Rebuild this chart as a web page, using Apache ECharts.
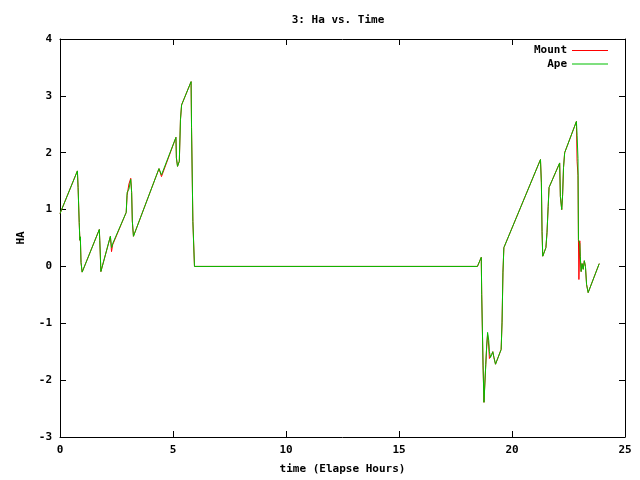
<!DOCTYPE html>
<html>
<head>
<meta charset="utf-8">
<script src="https://cdn.jsdelivr.net/npm/echarts@6/dist/echarts.min.js"></script>
<style>
  html, body { margin: 0; padding: 0; background: #fff; }
  #main { width: 640px; height: 480px; }
</style>
</head>
<body>
<div id="main"></div>
<script>
// elapsed hours, shared by both traces
var timeH = [0.00, 0.77, 0.80, 0.85, 0.88, 0.90, 0.93, 0.98, 1.74, 1.76, 1.81, 2.23, 2.28, 2.33, 2.93, 2.97, 3.05, 3.13, 3.17, 3.20, 3.25,
  4.38, 4.49, 5.13, 5.15, 5.20, 5.28, 5.33, 5.38, 5.80, 5.82, 5.88, 5.95,
  18.47, 18.64, 18.66, 18.72, 18.76, 18.80, 18.84, 18.88, 18.92, 18.97, 19.00, 19.05, 19.10, 19.15, 19.20, 19.27, 19.52, 19.56, 19.60, 19.64, 19.68,
  21.26, 21.30, 21.33, 21.36, 21.50, 21.55, 21.60, 21.64, 22.11, 22.14, 22.20, 22.24, 22.28, 22.33,
  22.85, 22.88, 22.92, 22.94, 22.96, 23.00, 23.02, 23.06, 23.10, 23.15, 23.20, 23.25, 23.30, 23.37, 23.86];

var haMount = [0.93, 1.68, 1.39, 0.77, 0.46, 0.52, 0.07, -0.10, 0.65, 0.46, -0.09, 0.53, 0.26, 0.38, 0.95, 1.25, 1.45, 1.55, 1.30, 0.80, 0.53,
  1.72, 1.58, 2.27, 1.91, 1.76, 1.85, 2.58, 2.84, 3.25, 2.44, 0.79, 0.00,
  0.00, 0.16, -0.49, -1.75, -2.39, -2.05, -1.72, -1.40, -1.20, -1.40, -1.62, -1.60, -1.55, -1.50, -1.60, -1.72, -1.46, -0.98, -0.10, 0.33, 0.30,
  1.88, 1.47, 0.61, 0.18, 0.33, 0.60, 1.05, 1.39, 1.82, 1.23, 1.00, 1.26, 1.74, 2.00,
  2.55, 1.85, 1.60, 0.47, -0.23, 0.45, 0.18, -0.09, 0.05, -0.05, 0.10, 0.00, -0.32, -0.46, 0.05];

var haApe = [0.93, 1.68, 1.39, 0.77, 0.46, 0.52, 0.07, -0.10, 0.65, 0.46, -0.09, 0.53, 0.33, 0.40, 0.95, 1.30, 1.36, 1.53, 1.30, 0.80, 0.53,
  1.72, 1.61, 2.27, 1.91, 1.76, 1.85, 2.58, 2.84, 3.25, 2.44, 0.79, 0.00,
  0.00, 0.16, -0.49, -1.75, -2.39, -2.05, -1.72, -1.40, -1.16, -1.30, -1.50, -1.60, -1.55, -1.50, -1.60, -1.72, -1.46, -0.98, -0.10, 0.33, 0.30,
  1.88, 1.47, 0.61, 0.18, 0.33, 0.60, 1.05, 1.39, 1.82, 1.23, 1.00, 1.26, 1.74, 2.00,
  2.55, 2.30, 1.90, 0.47, 0.45, 0.40, 0.18, -0.09, 0.05, -0.05, 0.10, 0.00, -0.32, -0.46, 0.05];

var xTicks = [0, 5, 10, 15, 20, 25];
var yTicks = [-3, -2, -1, 0, 1, 2, 3, 4];

function pairs(xs, ys) {
  var out = [];
  for (var i = 0; i < xs.length; i++) out.push([xs[i], ys[i]]);
  return out;
}

var font = 'DejaVu Sans Mono';
var txt = { color: '#000', fontFamily: font, fontSize: 11, fontWeight: 'bold' };
var axLine = { show: true, onZero: false, lineStyle: { color: '#000', width: 1 } };
var tick = { show: true, inside: true, length: 6, lineStyle: { color: '#000' } };
var lbl = { margin: 8, fontFamily: font, fontSize: 11, fontWeight: 'bold', color: '#000' };

var myChart = echarts.init(document.getElementById('main'));
var option = {
  backgroundColor: '#fff',
  animation: false,
  title: {
    text: '3: Ha vs. Time',
    left: 333, top: 10, textAlign: 'center',
    textStyle: txt
  },
  legend: {
    orient: 'vertical',
    right: 27, top: 40,
    align: 'right',
    icon: 'rect',
    itemWidth: 36, itemHeight: 1,
    itemGap: 2.5,
    textStyle: txt,
    data: ['Mount', 'Ape']
  },
  grid: { left: 60, right: 15, top: 39, bottom: 42 },
  xAxis: [{
    type: 'value', min: 0, max: 25, interval: 5,
    name: 'time (Elapse Hours)', nameLocation: 'middle', nameGap: 27,
    nameTextStyle: txt,
    axisLine: axLine, axisTick: tick, splitLine: { show: false },
    axisLabel: Object.assign({ customValues: xTicks }, lbl)
  }, {
    type: 'value', position: 'top', min: 0, max: 25, interval: 5,
    axisLine: axLine, axisTick: tick, axisLabel: { show: false }, splitLine: { show: false }
  }],
  yAxis: [{
    type: 'value', min: -3, max: 4, interval: 1,
    name: 'HA', nameLocation: 'middle', nameGap: 33, nameRotate: 90,
    nameTextStyle: txt,
    axisLine: axLine, axisTick: tick, splitLine: { show: false },
    axisLabel: Object.assign({ customValues: yTicks }, lbl)
  }, {
    type: 'value', position: 'right', min: -3, max: 4, interval: 1,
    axisLine: axLine, axisTick: tick, axisLabel: { show: false }, splitLine: { show: false }
  }],
  series: [{
    name: 'Mount', type: 'line', symbol: 'none',
    itemStyle: { color: '#ff0000' },
    lineStyle: { color: '#ff0000', width: 1 },
    data: pairs(timeH, haMount)
  }, {
    name: 'Ape', type: 'line', symbol: 'none',
    itemStyle: { color: '#00c000' },
    lineStyle: { color: '#00c000', width: 1 },
    data: pairs(timeH, haApe)
  }]
};
myChart.setOption(option);
</script>
</body>
</html>
